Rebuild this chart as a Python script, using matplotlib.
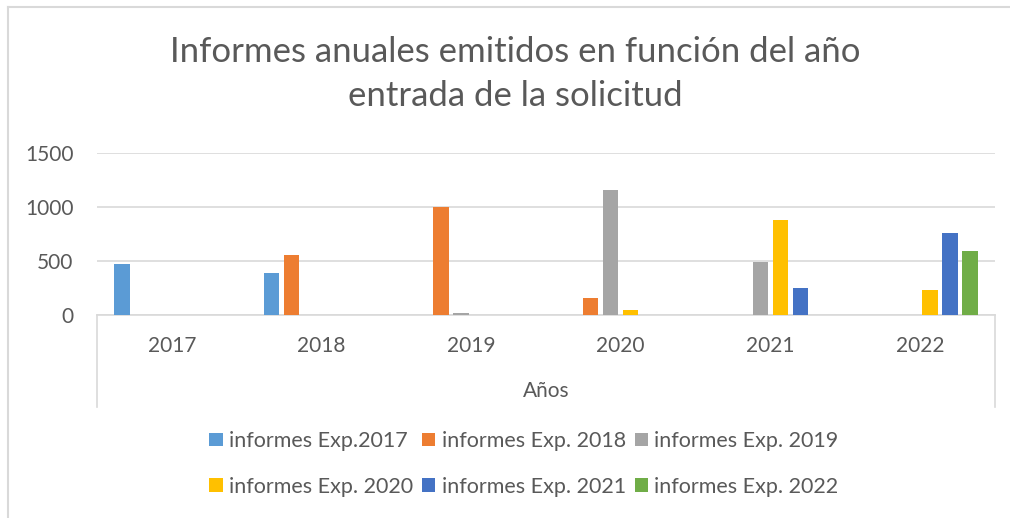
import numpy as np
import matplotlib.pyplot as plt
from matplotlib.lines import Line2D

years = ["2017", "2018", "2019", "2020", "2021", "2022"]
labels = ["informes Exp.2017", "informes Exp. 2018", "informes Exp. 2019",
          "informes Exp. 2020", "informes Exp. 2021", "informes Exp. 2022"]
colors = ["#5B9BD5", "#ED7D31", "#A5A5A5", "#FFC000", "#4472C4", "#70AD47"]

exp_2017 = [472, 386, 0, 0, 0, 0]
exp_2018 = [0, 553, 1000, 155, 0, 0]
exp_2019 = [0, 0, 15, 1160, 488, 0]
exp_2020 = [0, 0, 0, 43, 882, 234]
exp_2021 = [0, 0, 0, 0, 250, 759]
exp_2022 = [0, 0, 0, 0, 0, 593]
series = [exp_2017, exp_2018, exp_2019, exp_2020, exp_2021, exp_2022]

plt.rcParams['font.family'] = ['Lato', 'DejaVu Sans']
txt = '#595959'
grid = '#D9D9D9'

fig = plt.figure(figsize=(10.1, 5.18), dpi=100)
ax = fig.add_axes([0.096, 0.392, 0.889, 0.3126])

x = np.arange(len(years))
slot = 0.1336
bars = []
for i, vals in enumerate(series):
    b = ax.bar(x + (i - 2.5) * slot, vals, width=0.103, color=colors[i],
               label=labels[i], zorder=3)
    bars.append(b)

ax.set_xlim(-0.5, 5.5)
ax.set_ylim(0, 1500)
ax.set_yticks([0, 500, 1000, 1500])
ax.set_xticks(x)
ax.set_xticklabels(years)
ax.yaxis.grid(True, color=grid, linewidth=1.2)
ax.tick_params(axis='both', length=0, colors=txt, labelsize=15)
ax.tick_params(axis='y', pad=17)
ax.tick_params(axis='x', pad=15)
for s in ['top', 'right', 'left']:
    ax.spines[s].set_visible(False)
ax.spines['bottom'].set_color(grid)
ax.spines['bottom'].set_linewidth(1.2)
ax.set_xlabel("Años", color=txt, fontsize=15, labelpad=18)

# category axis box sides
for xx in [0, 1]:
    ax.plot([xx, xx], [0, -0.57], transform=ax.transAxes, color=grid,
            linewidth=1.2, clip_on=False)

# chart border (left and top)
fig.add_artist(Line2D([8 / 1010, 8 / 1010], [0, 1 - 7 / 518], color=grid, linewidth=1.5))
fig.add_artist(Line2D([8 / 1010, 1], [1 - 7 / 518, 1 - 7 / 518], color=grid, linewidth=1.5))

fig.text(515 / 1010, 1 - 74 / 518,
         "Informes anuales emitidos en función del año\nentrada de la solicitud",
         ha='center', va='center', fontsize=25, color=txt, linespacing=1.45)

# row-major order for a 2x3 legend
order = [0, 3, 1, 4, 2, 5]
fig.legend([bars[i] for i in order], [labels[i] for i in order],
           loc='center', bbox_to_anchor=(524 / 1010, 1 - 464 / 518), ncol=3,
           frameon=False, fontsize=15.5, labelcolor=txt, handlelength=0.62,
           handleheight=0.62, handletextpad=0.3, columnspacing=0.4,
           labelspacing=1.2)

plt.savefig("out.png", dpi=100)
